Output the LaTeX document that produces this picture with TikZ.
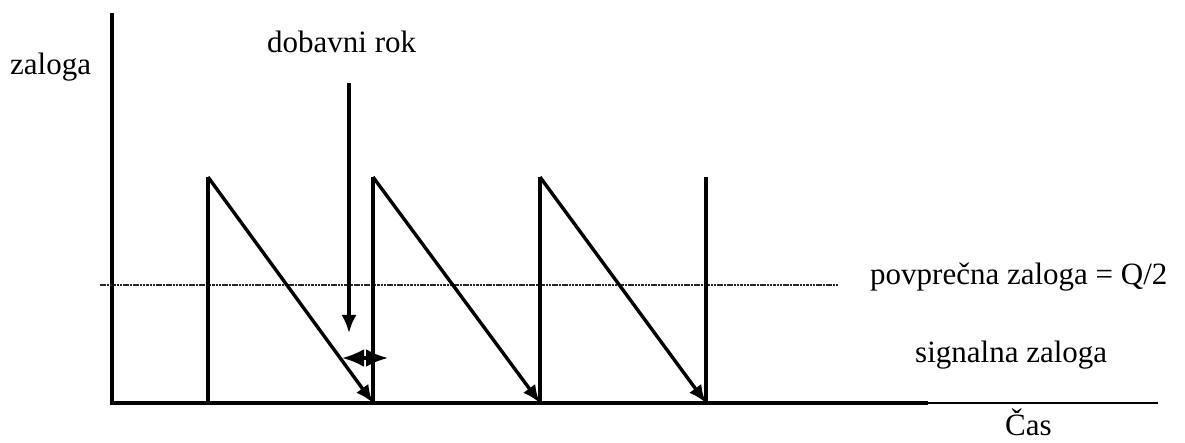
\documentclass[tikz,border=0pt]{standalone}
\usepackage{fontspec}
\setmainfont{Liberation Serif}
\usetikzlibrary{arrows.meta}
\begin{document}
\begin{tikzpicture}[x=1pt,y=-1pt,
  thickline/.style={line width=3.4pt},
  txt/.style={inner sep=0pt,anchor=base west,font=\fontsize{31}{37}\selectfont},
  tip/.style={-{Latex[length=18pt,width=15pt]}},
  avg/.style={line width=1.6pt,dash pattern=on 2.5pt off 0.8pt,black!85}]
\useasboundingbox (0,0) rectangle (1185,443);
% axes
\coordinate (ytop) at (112,13);
\coordinate (o) at (112,403);
\coordinate (xthick) at (928,403);
\coordinate (xend) at (1158,403);
\draw[thickline] (ytop) -- (o) -- (xthick);
\draw[line width=1.2pt] (xthick) -- (xend);
% average line
\coordinate (a1) at (100,285);
\coordinate (a2) at (838,285);
\draw[avg] (a1) -- (a2);
% sawtooth
\coordinate (b1) at (208,403); \coordinate (p1) at (208,177);
\coordinate (b2) at (373,403); \coordinate (p2) at (373,177);
\coordinate (b3) at (540,403); \coordinate (p3) at (540,177);
\coordinate (b4) at (706,403); \coordinate (p4) at (706,177);
\draw[thickline] (b1) -- (p1);
\draw[thickline] (b2) -- (p2);
\draw[thickline] (b3) -- (p3);
\draw[thickline] (b4) -- (p4);
\draw[thickline,tip] (p1) -- (b2);
\draw[thickline,tip] (p2) -- (b3);
\draw[thickline,tip] (p3) -- (b4);
% lead time arrow
\coordinate (d1) at (349,83);
\coordinate (d2) at (349,333);
\draw[thickline,tip] (d1) -- (d2);
% lead time double arrow (signal)
\coordinate (l1) at (342,358);
\coordinate (l2) at (388,358);
\draw[thickline,{Latex[length=22pt,width=18pt]}-{Latex[length=22pt,width=18pt]}] (l1) -- (l2);
% labels
\node[txt] (zal) at (10,75) {zaloga};
\node[txt] (dob) at (267,53) {dobavni rok};
\node[txt] (pov) at (870,285) {povprečna zaloga = Q/2};
\node[txt] (sig) at (915,362) {signalna zaloga};
\node[txt] (cas) at (1005,435) {Čas};
\end{tikzpicture}
\end{document}
